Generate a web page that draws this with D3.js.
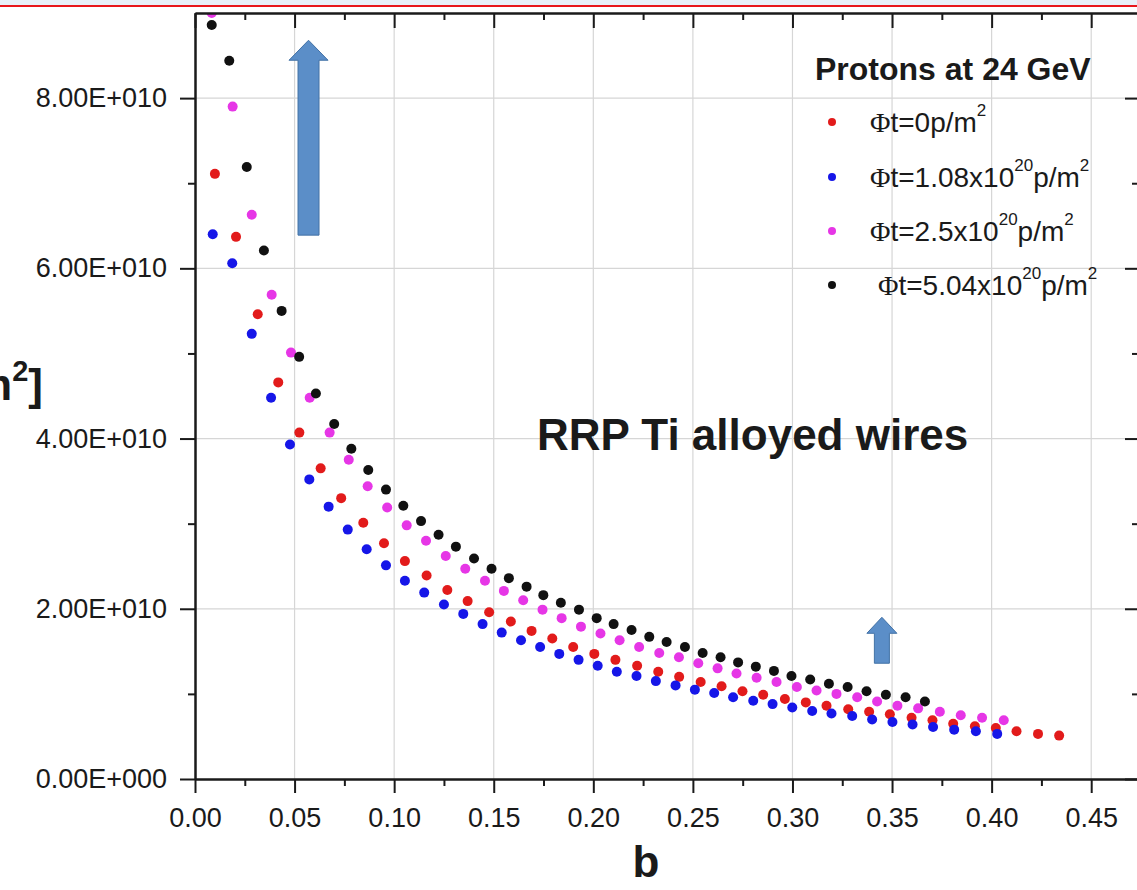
<!DOCTYPE html>
<html>
<head>
<meta charset="utf-8">
<script src="https://cdn.jsdelivr.net/npm/d3@7"></script>
<style>
body { margin: 0; background: #fff; }
svg text { font-family: "Liberation Sans", Arial, sans-serif; fill: #1a1a1a; }
</style>
</head>
<body>
<div class="chart"></div>
<script>
// Jc vs b, RRP Ti alloyed wires, 24 GeV protons
// values, y in units of 1E10

var bRed = [0.0100, 0.0206, 0.0315, 0.0418, 0.0524, 0.0631, 0.0734, 0.0845, 0.0949, 0.1054,
    0.1163, 0.1267, 0.1369, 0.1477, 0.1586, 0.1690, 0.1794, 0.1899, 0.2005, 0.2111,
    0.2220, 0.2326, 0.2431, 0.2539, 0.2644, 0.2749, 0.2853, 0.2962, 0.3067, 0.3171,
    0.3280, 0.3385, 0.3489, 0.3598, 0.3703, 0.3807, 0.3916, 0.4021, 0.4125, 0.4233, 0.4339];
var jcRed = [7.11, 6.37, 5.46, 4.66, 4.07, 3.65, 3.30, 3.01, 2.77, 2.56,
    2.39, 2.22, 2.09, 1.96, 1.85, 1.74, 1.65, 1.55, 1.47, 1.40,
    1.33, 1.26, 1.20, 1.14, 1.09, 1.03, 0.99, 0.94, 0.90, 0.86,
    0.82, 0.79, 0.76, 0.72, 0.69, 0.65, 0.62, 0.60, 0.56, 0.53, 0.51];

var bBlue = [0.0089, 0.0187, 0.0285, 0.0382, 0.0477, 0.0574, 0.0671, 0.0767, 0.0862, 0.0959,
    0.1054, 0.1151, 0.1250, 0.1347, 0.1444, 0.1540, 0.1637, 0.1733, 0.1829, 0.1926,
    0.2022, 0.2118, 0.2217, 0.2314, 0.2413, 0.2510, 0.2607, 0.2702, 0.2803, 0.2900,
    0.2999, 0.3099, 0.3196, 0.3300, 0.3400, 0.3502, 0.3603, 0.3706, 0.3812, 0.3921, 0.4028];
var jcBlue = [6.40, 6.06, 5.23, 4.48, 3.93, 3.52, 3.20, 2.93, 2.70, 2.51,
    2.33, 2.19, 2.05, 1.94, 1.82, 1.72, 1.63, 1.55, 1.47, 1.40,
    1.33, 1.26, 1.21, 1.15, 1.10, 1.05, 1.01, 0.96, 0.92, 0.88,
    0.84, 0.80, 0.77, 0.74, 0.70, 0.67, 0.64, 0.61, 0.58, 0.56, 0.53];

var bMagenta = [0.0084, 0.0189, 0.0285, 0.0385, 0.0482, 0.0576, 0.0676, 0.0772, 0.0867, 0.0965,
    0.1063, 0.1160, 0.1259, 0.1357, 0.1456, 0.1551, 0.1648, 0.1745, 0.1841, 0.1938,
    0.2036, 0.2132, 0.2230, 0.2331, 0.2430, 0.2527, 0.2624, 0.2719, 0.2820, 0.2920,
    0.3022, 0.3121, 0.3221, 0.3325, 0.3425, 0.3527, 0.3631, 0.3740, 0.3845, 0.3952, 0.4061];
var jcMagenta = [9.00, 7.90, 6.63, 5.69, 5.01, 4.48, 4.07, 3.75, 3.44, 3.19,
    2.98, 2.80, 2.62, 2.47, 2.33, 2.21, 2.10, 1.99, 1.89, 1.79,
    1.71, 1.63, 1.55, 1.48, 1.43, 1.36, 1.30, 1.24, 1.19, 1.14,
    1.08, 1.04, 1.00, 0.96, 0.91, 0.86, 0.83, 0.79, 0.75, 0.72, 0.69];

var bBlack = [0.0084, 0.0172, 0.0260, 0.0346, 0.0435, 0.0523, 0.0607, 0.0699, 0.0785, 0.0870,
    0.0959, 0.1046, 0.1135, 0.1223, 0.1310, 0.1401, 0.1489, 0.1576, 0.1665, 0.1749,
    0.1837, 0.1928, 0.2017, 0.2102, 0.2192, 0.2281, 0.2368, 0.2460, 0.2549, 0.2639,
    0.2727, 0.2816, 0.2907, 0.2995, 0.3089, 0.3183, 0.3277, 0.3372, 0.3469, 0.3568, 0.3665];
var jcBlack = [8.86, 8.44, 7.19, 6.21, 5.50, 4.96, 4.53, 4.17, 3.88, 3.63,
    3.40, 3.21, 3.03, 2.87, 2.73, 2.59, 2.47, 2.36, 2.26, 2.16,
    2.07, 1.99, 1.89, 1.82, 1.75, 1.67, 1.61, 1.55, 1.48, 1.43,
    1.37, 1.32, 1.27, 1.21, 1.17, 1.12, 1.08, 1.03, 0.99, 0.96, 0.91];

var xTicks = [0, 0.05, 0.10, 0.15, 0.20, 0.25, 0.30, 0.35, 0.40, 0.45];
var xTickLabels = ["0.00", "0.05", "0.10", "0.15", "0.20", "0.25", "0.30", "0.35", "0.40", "0.45"];
var xMinorTicks = [0.025, 0.075, 0.125, 0.175, 0.225, 0.275, 0.325, 0.375, 0.425];
var yTicks = [0, 2, 4, 6, 8];
var yTickLabels = ["0.00E+000", "2.00E+010", "4.00E+010", "6.00E+010", "8.00E+010"];
var yMinorTicks = [1, 3, 5, 7];

// legend text: odd pieces are superscripts
var legendLabels = [
    ["t=0p/m", "2"],
    ["t=1.08x10", "20", "p/m", "2"],
    ["t=2.5x10", "20", "p/m", "2"],
    ["t=5.04x10", "20", "p/m", "2"]
];

var series = [
    { b: bRed, jc: jcRed, color: "#e21b1b" },
    { b: bBlue, jc: jcBlue, color: "#1616e8" },
    { b: bMagenta, jc: jcMagenta, color: "#e636e6" },
    { b: bBlack, jc: jcBlack, color: "#111111" }
];

var svgWidth = 1137;
var svgHeight = 890;
// plot frame (window.top is reserved, so prefix the names)
var pLeft = 195, pRight = 1139, pTop = 13, pBottom = 779;

var svg = d3.select(".chart")
    .append("svg")
    .attr("width", svgWidth)
    .attr("height", svgHeight)
    .style("display", "block");

svg.append("rect").attr("width", svgWidth).attr("height", svgHeight).attr("fill", "#fff");

// slide strip at top
svg.append("rect").attr("x", 0).attr("y", 0).attr("width", svgWidth).attr("height", 5).attr("fill", "#e8f0f8");
svg.append("line").attr("x1", 0).attr("x2", svgWidth).attr("y1", 6).attr("y2", 6)
    .attr("stroke", "#e8161b").attr("stroke-width", 2);

var xScale = d3.scaleLinear().domain([0, 0.474]).range([pLeft, pRight]);
var yScale = d3.scaleLinear().domain([0, 9]).range([pBottom, pTop]);

// grid
var grid = svg.append("g").attr("stroke", "#d6d6d6").attr("stroke-width", 1.2);
grid.selectAll(".vg").data(xTicks.slice(1)).enter().append("line")
    .attr("x1", function(d) { return xScale(d); })
    .attr("x2", function(d) { return xScale(d); })
    .attr("y1", pTop).attr("y2", pBottom);
grid.selectAll(".hg").data(yTicks.slice(1)).enter().append("line")
    .attr("y1", function(d) { return yScale(d); })
    .attr("y2", function(d) { return yScale(d); })
    .attr("x1", pLeft).attr("x2", pRight);

// points
svg.append("clipPath").attr("id", "plotclip")
    .append("rect").attr("x", pLeft).attr("y", pTop).attr("width", pRight - pLeft).attr("height", pBottom - pTop);

var dots = svg.append("g").attr("clip-path", "url(#plotclip)");
series.forEach(function(s) {
    dots.append("g").selectAll("circle")
        .data(s.b.map(function(b, i) { return [b, s.jc[i]]; }))
        .enter()
        .append("circle")
        .attr("cx", function(d) { return xScale(d[0]); })
        .attr("cy", function(d) { return yScale(d[1]); })
        .attr("r", 5)
        .attr("fill", s.color);
});

// axes
function styleAxis(g) {
    g.select(".domain").attr("stroke", "#1a1a1a").attr("stroke-width", 2);
    g.selectAll(".tick line").attr("stroke", "#1a1a1a").attr("stroke-width", 2);
}

var bottomAxis = d3.axisBottom(xScale).tickValues(xTicks).tickSize(14).tickSizeOuter(0).tickPadding(15)
    .tickFormat(function(d, i) { return xTickLabels[i]; });
var gb = svg.append("g").attr("transform", "translate(0," + pBottom + ")").call(bottomAxis);
styleAxis(gb);
gb.selectAll("text").attr("font-size", 27).style("font-family", "'Liberation Sans', Arial, sans-serif").attr("fill", "#222");
svg.append("g").attr("transform", "translate(0," + pBottom + ")")
    .call(d3.axisBottom(xScale).tickValues(xMinorTicks).tickSize(7).tickSizeOuter(0).tickFormat(""))
    .call(styleAxis);

var gt = svg.append("g").attr("transform", "translate(0," + pTop + ")")
    .call(d3.axisBottom(xScale).tickValues(xTicks).tickSize(15).tickSizeOuter(0).tickFormat(""));
styleAxis(gt);
svg.append("g").attr("transform", "translate(0," + pTop + ")")
    .call(d3.axisBottom(xScale).tickValues(xMinorTicks).tickSize(7).tickSizeOuter(0).tickFormat(""))
    .call(styleAxis);

var leftAxis = d3.axisLeft(yScale).tickValues(yTicks).tickSize(15).tickSizeOuter(0).tickPadding(13)
    .tickFormat(function(d, i) { return yTickLabels[i]; });
var gl = svg.append("g").attr("transform", "translate(" + pLeft + ",0)").call(leftAxis);
styleAxis(gl);
gl.selectAll("text").attr("font-size", 27).style("font-family", "'Liberation Sans', Arial, sans-serif").attr("fill", "#222");
svg.append("g").attr("transform", "translate(" + pLeft + ",0)")
    .call(d3.axisLeft(yScale).tickValues(yMinorTicks).tickSize(7).tickSizeOuter(0).tickFormat(""))
    .call(styleAxis);

var gr = svg.append("g").attr("transform", "translate(" + pRight + ",0)")
    .call(d3.axisLeft(yScale).tickValues(yTicks).tickSize(14).tickSizeOuter(0).tickFormat(""));
styleAxis(gr);
svg.append("g").attr("transform", "translate(" + pRight + ",0)")
    .call(d3.axisLeft(yScale).tickValues(yMinorTicks).tickSize(7).tickSizeOuter(0).tickFormat(""))
    .call(styleAxis);

// axis titles
svg.append("text")
    .attr("x", 646).attr("y", 877)
    .attr("text-anchor", "middle")
    .attr("font-size", 44).attr("font-weight", "bold")
    .text("b");

var yTitle = svg.append("text")
    .attr("x", 43).attr("y", 400)
    .attr("text-anchor", "end")
    .attr("font-size", 44).attr("font-weight", "bold");
yTitle.append("tspan").text("Jc [A/m");
yTitle.append("tspan").attr("font-size", 29).attr("dy", -19).text("2");
yTitle.append("tspan").attr("dy", 19).text("]");

svg.append("text")
    .attr("x", 537).attr("y", 450)
    .attr("font-size", 44).attr("font-weight", "bold")
    .text("RRP Ti alloyed wires");

// legend
svg.append("text")
    .attr("x", 815).attr("y", 80)
    .attr("font-size", 32).attr("font-weight", "bold")
    .text("Protons at 24 GeV");

var legendY = [132, 187, 241, 295];
var legendX = [870, 870, 870, 878];
legendLabels.forEach(function(parts, i) {
    svg.append("circle")
        .attr("cx", 832).attr("cy", legendY[i] - 10)
        .attr("r", 4).attr("fill", series[i].color);
    var t = svg.append("text")
        .attr("x", legendX[i]).attr("y", legendY[i])
        .attr("font-size", 28);
    t.append("tspan").style("font-family", "'Liberation Serif', 'Times New Roman', serif").text("\u03A6");
    var up = false;
    parts.forEach(function(p, k) {
        var sup = k % 2 === 1;
        var ts = t.append("tspan").text(p);
        if (sup) {
            ts.attr("font-size", 17).attr("dy", -16);
            up = true;
        } else if (up) {
            ts.attr("dy", 16);
            up = false;
        }
    });
});

// blue block arrows
var arrows = [
    { b: 0.0570, tip: 8.68, tail: 6.39, headW: 39, shaftW: 21, headLen: 20 },
    { b: 0.3449, tip: 1.90, tail: 1.36, headW: 30, shaftW: 15, headLen: 16 }
];
arrows.forEach(function(a) {
    var cx = xScale(a.b), ty = yScale(a.tip), by = yScale(a.tail);
    var hy = ty + a.headLen;
    var pts = [[cx, ty], [cx + a.headW / 2, hy], [cx + a.shaftW / 2, hy], [cx + a.shaftW / 2, by],
        [cx - a.shaftW / 2, by], [cx - a.shaftW / 2, hy], [cx - a.headW / 2, hy]];
    svg.append("path")
        .attr("d", "M" + pts.join("L") + "Z")
        .attr("fill", "#5b8ec8")
        .attr("stroke", "#4372a6")
        .attr("stroke-width", 1);
});
</script>
</body>
</html>
